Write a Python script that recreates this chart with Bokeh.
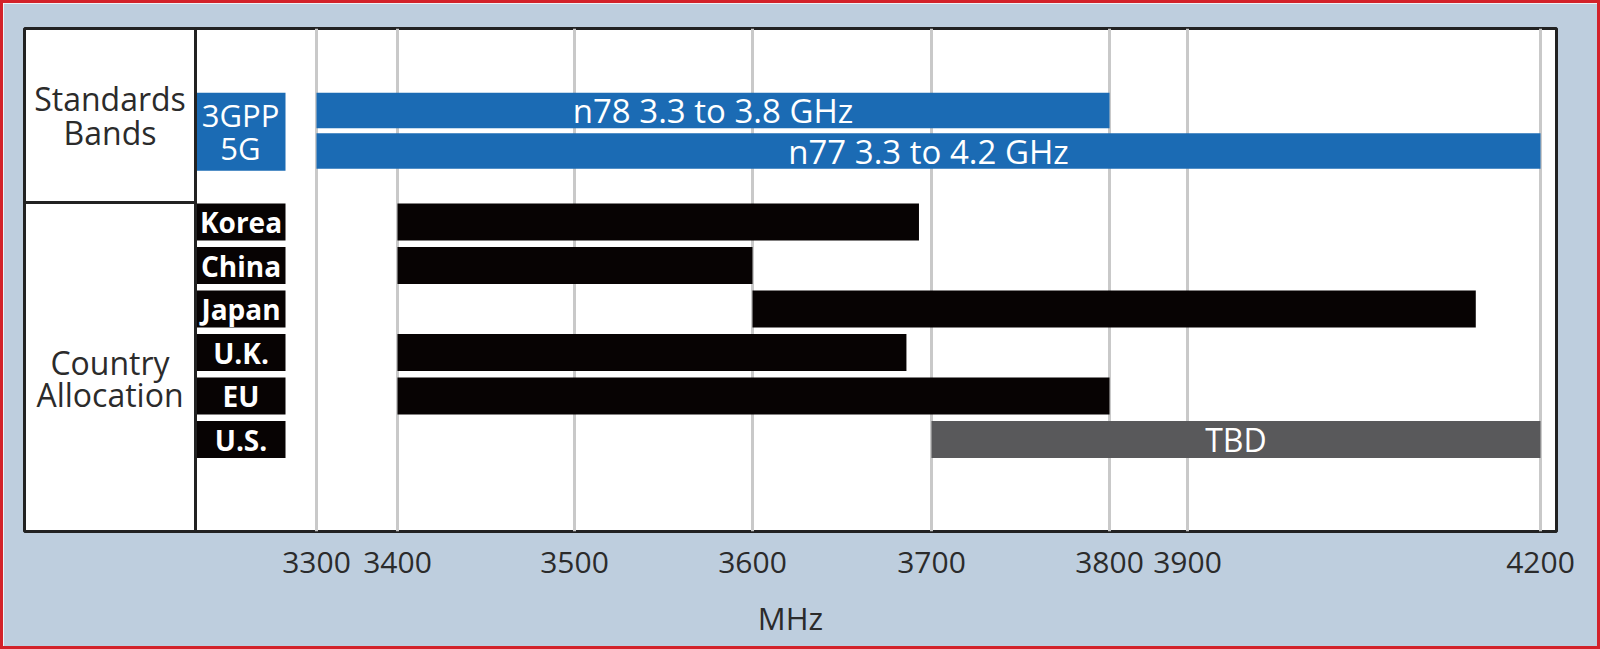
from bokeh.plotting import figure
from bokeh.models import Range1d, FixedTicker, Span, ColumnDataSource
from bokeh.core.properties import value
from bokeh.embed import file_html
from bokeh.resources import INLINE
import numpy as np

# ---------------- data ----------------
STD_LABELS = ["n78 3.3 to 3.8 GHz", "n77 3.3 to 4.2 GHz"]
STD_START = [3300, 3300]
STD_END = [3800, 4200]

COUNTRIES = ["Korea", "China", "Japan", "U.K.", "EU", "U.S."]
CTY_START = [3400, 3400, 3600, 3400, 3400, 3700]
CTY_END = [3693, 3600, 4145, 3686, 3800, 4200]
CTY_TEXT = ["", "", "", "", "", "TBD"]

TICK_MHZ = [3300, 3400, 3500, 3600, 3700, 3800, 3900, 4200]

# ---------------- schematic (non-linear) axis layout ----------------
TICK_POS = [0, 81, 258, 436, 615, 793, 871, 1224]


def to_pos(mhz):
    return np.interp(np.asarray(mhz, dtype=float), TICK_MHZ, TICK_POS)


FONT = "Open Sans"
BLUE = "#1B6BB4"
BLACK = "#070303"
GRAY = "#59595B"
BG = "#BECEDE"
TXT = "#2B2B2B"

# layout constants (frame units: x in axis units, y from top)
X0, X1 = -292, 1240
DIV_X = -121
LBL_L, LBL_R = -120, -31
STD_Y0, STD_DY, STD_H = 82, 40.5, 35.5
CTY_Y0, CTY_DY, CTY_H = 193.5, 43.5, 37
SEP_Y = 174
FH = 503

p = figure(
    output_backend="svg", toolbar_location=None,
    frame_width=1532, frame_height=FH,
    min_border_left=21, min_border_right=41, min_border_top=25, min_border_bottom=115,
    x_range=Range1d(X0, X1), y_range=Range1d(FH, 0),
    y_axis_location=None,
    background_fill_color="white", border_fill_color=BG,
    outline_line_color="#222222", outline_line_width=3,
    styles={"border": "3px solid #D3222A"},
)

# grid
p.xgrid.ticker = FixedTicker(ticks=TICK_POS)
p.xgrid.grid_line_color = "#C9C9C9"
p.xgrid.grid_line_width = 3
p.ygrid.visible = False

# x axis
ax = p.xaxis[0]
ax.ticker = FixedTicker(ticks=TICK_POS)
ax.major_label_overrides = {int(pos): str(m) for pos, m in zip(TICK_POS, TICK_MHZ)}
ax.axis_line_color = None
ax.major_tick_line_color = None
ax.minor_tick_line_color = None
ax.major_tick_out = 0
ax.major_label_standoff = 20
ax.major_label_text_font = FONT
ax.major_label_text_font_size = "30px"
ax.major_label_text_color = TXT
ax.axis_label = "MHz"
ax.axis_label_text_font = FONT
ax.axis_label_text_font_size = "31px"
ax.axis_label_text_font_style = "normal"
ax.axis_label_text_color = TXT
ax.axis_label_standoff = 21

# dividers
p.add_layout(Span(location=DIV_X, dimension="height", line_color="#222222", line_width=3))
p.segment(x0=[X0], x1=[DIV_X], y0=[SEP_Y], y1=[SEP_Y], line_color="#222222", line_width=3)

# standards bars
std_y = [STD_Y0 + i * STD_DY for i in range(len(STD_LABELS))]
s_std = ColumnDataSource(dict(
    left=to_pos(STD_START), right=to_pos(STD_END), y=std_y, label=STD_LABELS,
    xc=(to_pos(STD_START) + to_pos(STD_END)) / 2,
))
p.hbar(y="y", left="left", right="right", height=STD_H, source=s_std,
       fill_color=BLUE, line_color=None)
p.text(x="xc", y="y", text="label", source=s_std, text_align="center", text_baseline="middle",
       text_color="white", text_font=value(FONT), text_font_size="33px")

# 3GPP 5G box
box_top = std_y[0] - STD_H / 2
box_bot = std_y[-1] + STD_H / 2 + 2
p.quad(left=[DIV_X], right=[LBL_R], top=[box_top], bottom=[box_bot], fill_color=BLUE, line_color=None)
p.text(x=[(DIV_X + LBL_R) / 2] * 2, y=[86, 119], text=["3GPP", "5G"], text_align="center",
       text_baseline="middle", text_color="white", text_font=value(FONT), text_font_size="31px")

# country bars
cty_y = [CTY_Y0 + i * CTY_DY for i in range(len(COUNTRIES))]
s_cty = ColumnDataSource(dict(
    left=to_pos(CTY_START), right=to_pos(CTY_END), y=cty_y, name=COUNTRIES, txt=CTY_TEXT,
    xc=(to_pos(CTY_START) + to_pos(CTY_END)) / 2,
    color=[BLACK if t == "" else GRAY for t in CTY_TEXT],
))
p.hbar(y="y", left="left", right="right", height=CTY_H, source=s_cty,
       fill_color="color", line_color=None)
p.text(x="xc", y="y", text="txt", source=s_cty, text_align="center", text_baseline="middle",
       text_color="white", text_font=value(FONT), text_font_size="32px")

# country label boxes
p.hbar(y="y", left=LBL_L, right=LBL_R, height=CTY_H, source=s_cty, fill_color=BLACK, line_color=None)
p.text(x=(LBL_L + LBL_R) / 2, y="y", text="name", source=s_cty, text_align="center",
       text_baseline="middle", text_color="white", text_font=value(FONT),
       text_font_size="28px", text_font_style="bold")

# left column headings
cx = (X0 + DIV_X) / 2
p.text(x=[cx] * 4, y=[70, 104, 334, 366], text=["Standards", "Bands", "Country", "Allocation"],
       text_align="center", text_baseline="middle", text_color=TXT,
       text_font=value(FONT), text_font_size="32px")

open("out.html", "w").write(file_html(p, INLINE))
